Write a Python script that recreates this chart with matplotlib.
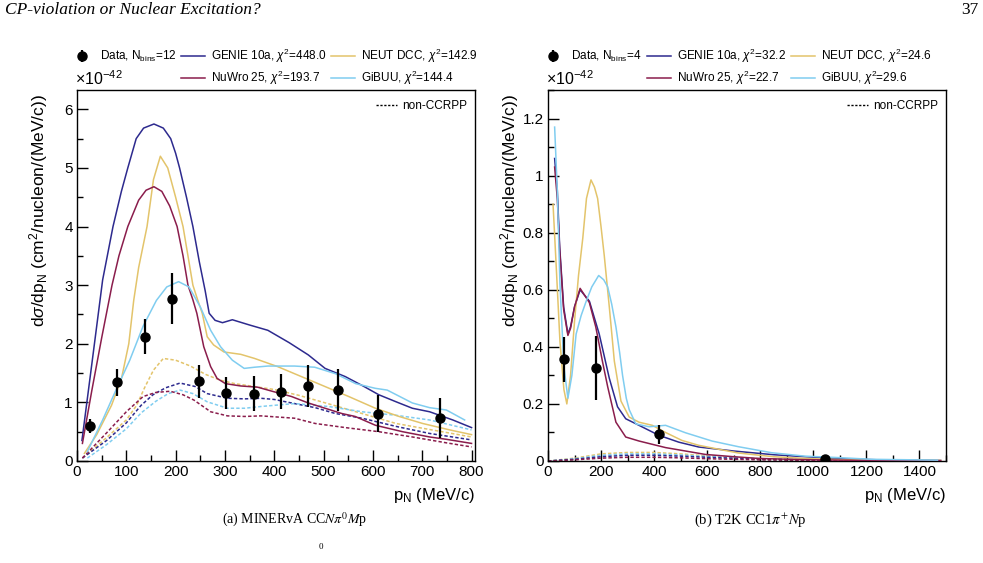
import matplotlib
matplotlib.use("Agg")
import matplotlib.pyplot as plt
from matplotlib.lines import Line2D
from matplotlib.ticker import MultipleLocator, FuncFormatter

plt.rcParams['font.family'] = ['Liberation Sans', 'DejaVu Sans']
plt.rcParams['mathtext.fontset'] = 'custom'
plt.rcParams['mathtext.rm'] = 'Liberation Sans'
plt.rcParams['mathtext.it'] = 'Liberation Sans:italic'
plt.rcParams['mathtext.bf'] = 'Liberation Sans:bold'

# colours
c_genie = '#2d2a8e'
c_nuwro = '#8a1d4c'
c_neut = '#e3c46b'
c_gibuu = '#80cdf0'

# ---------------- (a) MINERvA ----------------
data_a_x = [27, 81, 137, 192, 247, 302, 358, 413, 469, 529, 610, 736]
data_a_y = [0.60, 1.34, 2.12, 2.77, 1.36, 1.16, 1.15, 1.18, 1.28, 1.21, 0.81, 0.73]
data_a_err = [0.125, 0.23, 0.30, 0.43, 0.28, 0.27, 0.30, 0.30, 0.36, 0.36, 0.32, 0.34]

genie_a_x = [10, 30, 52, 73, 90, 103, 120, 135, 156, 175, 190, 200, 208, 222, 235, 248,
             260, 268, 280, 295, 315, 350, 387, 430, 469, 503, 544, 580, 612, 650, 680,
             715, 762, 800]
genie_a_y = [0.35, 1.65, 3.09, 4.0, 4.6, 5.0, 5.5, 5.68, 5.75, 5.68, 5.5, 5.25, 5.0, 4.5,
             4.0, 3.4, 2.9, 2.52, 2.4, 2.36, 2.41, 2.32, 2.23, 2.02, 1.81, 1.58, 1.44, 1.28,
             1.13, 1.0, 0.90, 0.84, 0.70, 0.57]

neut_a_x = [15, 40, 70, 90, 105, 115, 125, 142, 155, 169, 184, 200, 215, 235, 245, 254,
            264, 277, 298, 332, 360, 407, 455, 503, 551, 605, 653, 701, 756, 800]
neut_a_y = [0.13, 0.45, 0.95, 1.4, 2.0, 2.74, 3.3, 4.0, 4.8, 5.2, 5.0, 4.5, 4.0, 3.0, 2.74,
            2.52, 2.12, 1.98, 1.86, 1.82, 1.75, 1.61, 1.44, 1.27, 1.10, 0.90, 0.76, 0.64,
            0.53, 0.45]

nuwro_a_x = [11, 30, 50, 71, 85, 103, 125, 140, 156, 172, 188, 203, 215, 225, 235, 243,
             257, 271, 284, 301, 332, 366, 400, 435, 469, 503, 537, 564, 605, 660, 715,
             749, 800]
nuwro_a_y = [0.30, 1.2, 2.1, 3.0, 3.5, 4.0, 4.45, 4.62, 4.68, 4.6, 4.35, 4.0, 3.5, 3.0,
             2.75, 2.52, 1.95, 1.61, 1.41, 1.32, 1.28, 1.26, 1.18, 1.10, 0.99, 0.90, 0.81,
             0.76, 0.61, 0.50, 0.41, 0.37, 0.30]

gibuu_a_x = [21, 52, 79, 107, 134, 161, 182, 206, 227, 250, 271, 291, 315, 339, 360, 387,
             441, 482, 524, 565, 605, 629, 680, 715, 749, 786]
gibuu_a_y = [0.16, 0.70, 1.21, 1.72, 2.30, 2.74, 2.97, 3.06, 2.97, 2.63, 2.23, 1.95, 1.72,
             1.58, 1.60, 1.62, 1.62, 1.60, 1.49, 1.32, 1.24, 1.21, 0.99, 0.91, 0.87, 0.70]

# non-CCRPP (dashed)
neut_a_nc_x = [11, 60, 100, 121, 137, 155, 175, 200, 230, 260, 290, 320, 360, 400, 450,
               500, 578, 647, 700, 800]
neut_a_nc_y = [0.05, 0.40, 0.70, 0.95, 1.25, 1.55, 1.75, 1.72, 1.62, 1.48, 1.38, 1.32,
               1.27, 1.22, 1.12, 1.0, 0.81, 0.64, 0.56, 0.41]
genie_a_nc_x = [11, 60, 100, 130, 154, 180, 209, 240, 264, 305, 340, 373, 400, 441, 483,
                524, 578, 647, 715, 800]
genie_a_nc_y = [0.05, 0.35, 0.65, 0.95, 1.13, 1.25, 1.33, 1.27, 1.15, 1.07, 1.06, 1.07,
                1.05, 0.98, 0.91, 0.81, 0.73, 0.59, 0.47, 0.36]
gibuu_a_nc_x = [21, 60, 100, 130, 160, 185, 209, 235, 264, 305, 340, 373, 441, 510, 578,
                647, 715, 800]
gibuu_a_nc_y = [0.05, 0.28, 0.55, 0.82, 1.02, 1.15, 1.21, 1.15, 1.01, 0.90, 0.90, 0.93,
                0.98, 0.93, 0.84, 0.78, 0.70, 0.53]
nuwro_a_nc_x = [11, 60, 100, 134, 160, 189, 215, 237, 271, 305, 340, 373, 441, 483, 544,
                612, 680, 749, 800]
nuwro_a_nc_y = [0.05, 0.48, 0.84, 1.1, 1.17, 1.19, 1.13, 1.04, 0.84, 0.77, 0.76, 0.77,
                0.73, 0.64, 0.57, 0.50, 0.41, 0.31, 0.24]

# ---------------- (b) T2K ----------------
data_b_x = [60, 180, 418, 1043]
data_b_y = [0.356, 0.326, 0.093, 0.007]
data_b_err = [0.078, 0.113, 0.033, 0.005]

genie_b_x = [25, 35, 44, 59, 75, 85, 100, 121, 156, 193, 231, 262, 293, 343, 418, 493,
             568, 700, 850, 968, 1100, 1250, 1480]
genie_b_y = [1.06, 0.95, 0.75, 0.54, 0.445, 0.47, 0.54, 0.60, 0.56, 0.445, 0.29, 0.19,
             0.148, 0.125, 0.09, 0.066, 0.049, 0.035, 0.022, 0.015, 0.008, 0.004, 0.002]
nuwro_b_x = [25, 35, 44, 59, 75, 85, 100, 121, 156, 180, 205, 225, 256, 293, 343, 443,
             593, 700, 793, 950, 1100, 1480]
nuwro_b_y = [1.03, 0.92, 0.74, 0.53, 0.44, 0.465, 0.54, 0.605, 0.555, 0.47, 0.35, 0.26,
             0.136, 0.084, 0.07, 0.047, 0.023, 0.015, 0.009, 0.005, 0.003, 0.001]
neut_b_x = [19, 30, 45, 60, 71, 85, 100, 115, 131, 145, 162, 175, 187, 200, 212, 231,
            250, 275, 306, 343, 393, 443, 505, 568, 650, 718, 850, 968, 1100, 1300, 1480]
neut_b_y = [0.90, 0.70, 0.42, 0.25, 0.20, 0.30, 0.49, 0.65, 0.78, 0.92, 0.985, 0.96,
            0.92, 0.82, 0.72, 0.54, 0.35, 0.21, 0.154, 0.136, 0.125, 0.10, 0.072, 0.055,
            0.04, 0.028, 0.015, 0.009, 0.005, 0.003, 0.002]
gibuu_b_x = [25, 35, 45, 60, 75, 90, 106, 125, 144, 165, 191, 210, 225, 240, 256, 270,
             281, 295, 306, 331, 381, 443, 518, 618, 718, 843, 968, 1093, 1218, 1468]
gibuu_b_y = [1.17, 0.95, 0.62, 0.33, 0.22, 0.30, 0.445, 0.51, 0.56, 0.61, 0.65, 0.635,
             0.61, 0.55, 0.47, 0.38, 0.30, 0.22, 0.18, 0.13, 0.12, 0.125, 0.099, 0.07,
             0.05, 0.029, 0.017, 0.012, 0.006, 0.003]

nc_b_x = [0, 100, 200, 300, 400, 500, 600, 800, 1000, 1200, 1480]
neut_b_nc_y = [0.0, 0.010, 0.025, 0.030, 0.030, 0.025, 0.018, 0.008, 0.003, 0.001, 0.0]
gibuu_b_nc_y = [0.0, 0.008, 0.020, 0.025, 0.025, 0.021, 0.016, 0.008, 0.004, 0.002, 0.0]
genie_b_nc_y = [0.0, 0.006, 0.015, 0.020, 0.020, 0.017, 0.013, 0.006, 0.003, 0.001, 0.0]
nuwro_b_nc_y = [0.0, 0.004, 0.010, 0.013, 0.013, 0.011, 0.008, 0.004, 0.002, 0.001, 0.0]

labels_a = [r'Data, N$_{\mathrm{bins}}$=12', r'GENIE 10a, $\chi^2$=448.0',
            r'NuWro 25, $\chi^2$=193.7', r'NEUT DCC, $\chi^2$=142.9',
            r'GiBUU, $\chi^2$=144.4']
labels_b = [r'Data, N$_{\mathrm{bins}}$=4', r'GENIE 10a, $\chi^2$=32.2',
            r'NuWro 25, $\chi^2$=22.7', r'NEUT DCC, $\chi^2$=24.6',
            r'GiBUU, $\chi^2$=29.6']

W, H = 983, 563
fig = plt.figure(figsize=(W / 100, H / 100), dpi=100)
ax_a = fig.add_axes([77 / W, 1 - 461 / H, 398 / W, 371 / H])
ax_b = fig.add_axes([548 / W, 1 - 461 / H, 398 / W, 371 / H])

dash = (0, (2.2, 1.4))
lw = 1.1


def draw(ax, curves, nc_curves, dx, dy, derr, labels, legend_x, colsp):
    lines = {}
    for name, (x, y, c) in curves.items():
        lines[name], = ax.plot(x, y, color=c, lw=lw, zorder=3)
    for x, y, c in nc_curves:
        ax.plot(x, y, color=c, lw=lw, ls=dash, zorder=2)
    eb = ax.errorbar(dx, dy, yerr=derr, fmt='o', color='black', ms=6.5, elinewidth=1.6,
                     capsize=0, zorder=5)
    blank = Line2D([], [], color='none')
    handles = [eb, blank, lines['genie'], lines['nuwro'], lines['neut'], lines['gibuu']]
    labs = [labels[0], '', labels[1], labels[2], labels[3], labels[4]]
    fig.legend(handles, labs, ncol=3, loc='upper left',
               bbox_to_anchor=(legend_x / W, 1 - 47 / H), frameon=False,
               fontsize=8.5, handlelength=2.0, handletextpad=0.55,
               columnspacing=colsp, labelspacing=0.3, borderpad=0, borderaxespad=0)
    nc_handle = Line2D([], [], color='black', lw=1.0, ls=(0, (1.6, 1.2)))
    ax.legend([nc_handle], ['non-CCRPP'], loc='upper right', frameon=False,
              fontsize=8.5, handlelength=1.8, handletextpad=0.4,
              bbox_to_anchor=(1.0, 0.995), borderaxespad=0.3)
    for s in ax.spines.values():
        s.set_linewidth(1.0)
    ax.tick_params(which='both', direction='in', top=False, right=False,
                   labelsize=11, pad=3, width=1.0)
    ax.tick_params(which='major', length=8)
    ax.tick_params(which='minor', length=4)
    ax.yaxis.set_major_formatter(FuncFormatter(lambda v, p: '%g' % v))


draw(ax_a,
     {'genie': (genie_a_x, genie_a_y, c_genie), 'neut': (neut_a_x, neut_a_y, c_neut),
      'nuwro': (nuwro_a_x, nuwro_a_y, c_nuwro), 'gibuu': (gibuu_a_x, gibuu_a_y, c_gibuu)},
     [(neut_a_nc_x, neut_a_nc_y, c_neut), (genie_a_nc_x, genie_a_nc_y, c_genie),
      (gibuu_a_nc_x, gibuu_a_nc_y, c_gibuu), (nuwro_a_nc_x, nuwro_a_nc_y, c_nuwro)],
     data_a_x, data_a_y, data_a_err, labels_a, 70, 0.35)
ax_a.set_xlim(0, 807)
ax_a.set_ylim(0, 6.33)
ax_a.xaxis.set_major_locator(MultipleLocator(100))
ax_a.xaxis.set_minor_locator(MultipleLocator(50))
ax_a.yaxis.set_major_locator(MultipleLocator(1))
ax_a.yaxis.set_minor_locator(MultipleLocator(0.5))

draw(ax_b,
     {'genie': (genie_b_x, genie_b_y, c_genie), 'neut': (neut_b_x, neut_b_y, c_neut),
      'nuwro': (nuwro_b_x, nuwro_b_y, c_nuwro), 'gibuu': (gibuu_b_x, gibuu_b_y, c_gibuu)},
     [(nc_b_x, neut_b_nc_y, c_neut), (nc_b_x, gibuu_b_nc_y, c_gibuu),
      (nc_b_x, genie_b_nc_y, c_genie), (nc_b_x, nuwro_b_nc_y, c_nuwro)],
     data_b_x, data_b_y, data_b_err, labels_b, 541, 0.45)
ax_b.set_xlim(0, 1500)
ax_b.set_ylim(0, 1.3)
ax_b.xaxis.set_major_locator(MultipleLocator(200))
ax_b.xaxis.set_minor_locator(MultipleLocator(100))
ax_b.yaxis.set_major_locator(MultipleLocator(0.2))
ax_b.yaxis.set_minor_locator(MultipleLocator(0.1))

ylab = r'd$\sigma$/dp$_{\mathrm{N}}$ (cm$^{2}$/nucleon/(MeV/c))'
for ax, x_ylab, x_exp in [(ax_a, 39, 75), (ax_b, 510, 546)]:
    fig.text(x_ylab / W, 1 - 94 / H, ylab, rotation=90, ha='center', va='top',
             fontsize=12.5)
    fig.text(x_exp / W, 1 - 79 / H, r'$\times$10$^{-42}$', ha='left', va='center',
             fontsize=11.5)
    ax.set_xlabel(r'p$_{\mathrm{N}}$ (MeV/c)', fontsize=12, loc='right', labelpad=5)

# page furniture
fig.text(5 / W, 1 - 10 / H, 'CP-violation or Nuclear Excitation?', ha='left', va='center',
         family='Liberation Serif', style='italic', fontsize=12.5)
fig.text(978 / W, 1 - 10 / H, '37', ha='right', va='center', family='Liberation Serif',
         fontsize=12.5)
fig.text(294 / W, 1 - 520 / H, r'(a) MINERvA CC$N\pi^{0}M$p', ha='center', va='center',
         family='Liberation Serif', fontsize=10, math_fontfamily='stix')
fig.text(750 / W, 1 - 520 / H, r'(b) T2K CC1$\pi^{+}N$p', ha='center', va='center',
         family='Liberation Serif', fontsize=10.5, math_fontfamily='stix')
fig.text(321 / W, 1 - 547 / H, '0', ha='center', va='center', family='Liberation Serif',
         fontsize=6.5)

fig.savefig('out.png', dpi=100)
